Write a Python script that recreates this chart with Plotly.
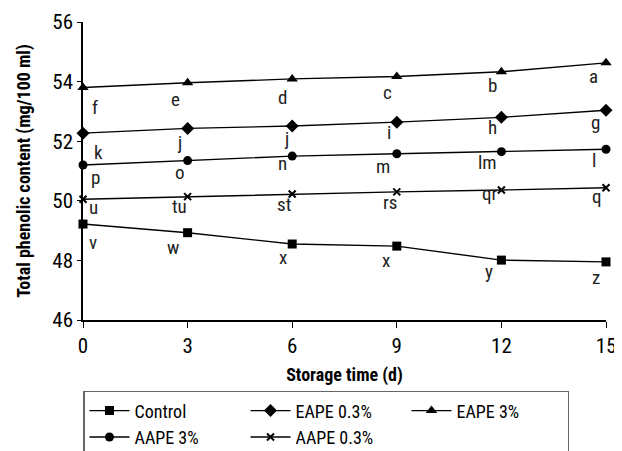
import plotly.graph_objects as go

days = [0, 3, 6, 9, 12, 15]
control = [49.22, 48.93, 48.55, 48.48, 48.01, 47.95]
eape_03 = [52.27, 52.43, 52.51, 52.64, 52.80, 53.04]
eape_3 = [53.80, 53.96, 54.09, 54.17, 54.33, 54.63]
aape_3 = [51.20, 51.35, 51.50, 51.58, 51.65, 51.73]
aape_03 = [50.05, 50.14, 50.23, 50.30, 50.36, 50.44]

lab_control = ["v", "w", "x", "x", "y", "z"]
lab_eape_03 = ["k", "j", "j", "i", "h", "g"]
lab_eape_3 = ["f", "e", "d", "c", "b", "a"]
lab_aape_3 = ["p", "o", "n", "m", "lm", "l"]
lab_aape_03 = ["u", "tu", "st", "rs", "qr", "q"]

FONT = "Roboto Condensed, Arial Narrow, sans-serif"

series = [
    ("Control", control, "square", 9, lab_control,
     [(10, -18), (-15, -15), (-9, -13), (-11, -14), (-12, -11), (-10, -16)]),
    ("EAPE 0.3%", eape_03, "diamond", 10, lab_eape_03,
     [(15, -19), (-8, -14), (-6, -12), (-8, -10), (-9, -10), (-11, -12)]),
    ("EAPE 3%", eape_3, "triangle-up", 10, lab_eape_3,
     [(12, -20), (-12, -17), (-10, -19), (-9, -16), (-9, -14), (-13, -14)]),
    ("AAPE 3%", aape_3, "circle", 9, lab_aape_3,
     [(12, -12), (-8, -12), (-10, -7), (-14, -13), (-14, -11), (-12, -11)]),
    ("AAPE 0.3%", aape_03, "x-thin-open", 7, lab_aape_03,
     [(10, -8), (-8, -10), (-8, -11), (-7, -11), (-11, -3), (-9, -9)]),
]

fig = go.Figure()
annotations = []
for name, vals, sym, size, labs, offs in series:
    fig.add_trace(go.Scatter(
        x=days, y=vals, name=name, mode="lines+markers",
        line=dict(color="black", width=1.4),
        marker=dict(symbol=sym, size=size, color="black",
                    line=dict(color="black", width=2 if "x" in sym else 0)),
        cliponaxis=False,
    ))
    for xv, yv, t, (dx, dy) in zip(days, vals, labs, offs):
        annotations.append(dict(
            x=xv, y=yv, xref="x", yref="y", text=t, showarrow=False,
            xshift=dx, yshift=dy, font=dict(family=FONT, size=19, color="#222"),
        ))

# page body has an 8px margin: figure is sized so that it ends at the window edge
fig.update_layout(
    width=614, height=443,
    margin=dict(l=75, r=16, t=14, b=131, autoexpand=False),
    paper_bgcolor="white", plot_bgcolor="white",
    font=dict(family=FONT, color="black"),
    annotations=annotations,
    showlegend=True,
    legend=dict(
        orientation="h", x=0, y=-0.238, xanchor="left", yanchor="top",
        xref="paper", yref="paper",
        entrywidth=106, entrywidthmode="pixels",
        bordercolor="#666", borderwidth=1.5,
        font=dict(family=FONT, size=18, color="black"),
        tracegroupgap=0, itemwidth=40,
    ),
    xaxis=dict(
        range=[0, 15], tickvals=days, ticks="outside", ticklen=6,
        tickcolor="black", showline=True, linecolor="black", linewidth=1.5,
        showgrid=False, zeroline=False,
        tickfont=dict(family=FONT, size=21, color="black"),
        title=dict(text="<b>Storage time (d)</b>", standoff=11,
                   font=dict(family=FONT, size=18, color="black")),
    ),
    yaxis=dict(
        range=[46, 56], tickvals=[46, 48, 50, 52, 54, 56], ticks="outside",
        ticklen=4, tickcolor="black", showline=True, linecolor="black",
        linewidth=1.5, showgrid=False, zeroline=False,
        tickfont=dict(family=FONT, size=21, color="black"),
        title=dict(text="<b>Total phenolic content (mg/100 ml)</b>", standoff=17,
                   font=dict(family=FONT, size=18, color="black")),
    ),
)

fig.write_html("out.html")
